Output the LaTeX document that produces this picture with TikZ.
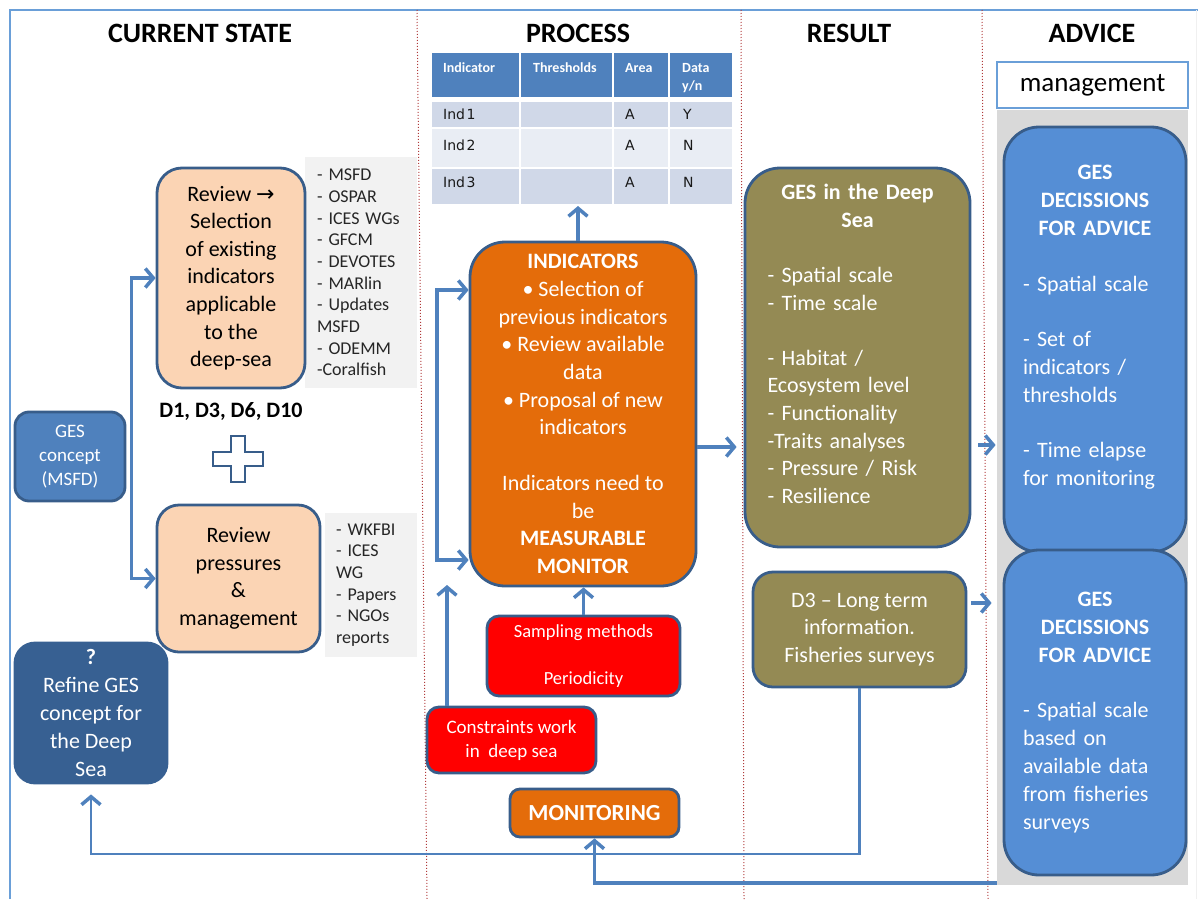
\documentclass[tikz,border=0pt]{standalone}
\usepackage{fontspec}
\setmainfont{Carlito}
\newfontfamily\dejavu{DejaVu Sans}
\usetikzlibrary{arrows.meta,calc}

\definecolor{bdr}{HTML}{385D8A}
\definecolor{peach}{HTML}{FBD4B4}
\definecolor{orng}{HTML}{E46C0A}
\definecolor{olive}{HTML}{948A54}
\definecolor{redbox}{HTML}{FF0000}
\definecolor{midblue}{HTML}{4F81BD}
\definecolor{darkblue}{HTML}{376092}
\definecolor{advblue}{HTML}{558ED5}
\definecolor{listgray}{HTML}{F2F2F2}
\definecolor{panelgray}{HTML}{D9D9D9}
\definecolor{cblue}{HTML}{4F81BD}
\definecolor{framecol}{HTML}{6A9FD8}
\definecolor{divider}{HTML}{B03A3A}
\definecolor{rowdark}{HTML}{D0D8E8}
\definecolor{rowlight}{HTML}{E9EDF4}

% centre one line inside a left-aligned node
\newcommand\ctr[1]{\hspace*{0pt plus 1filll}#1\hspace*{0pt plus 1filll}\mbox{}}

\begin{document}
\begin{tikzpicture}[x=1pt,y=-1pt,
  >={Straight Barb[length=8pt,width=19pt,line width=3.5pt]},
  box/.style={draw=bdr, line width=2.8pt, inner sep=0pt, align=center,
    font=\fontsize{22}{27.6}\selectfont},
  conn/.style={draw=cblue, line width=3.5pt},
  head/.style={font=\fontsize{28}{30}\selectfont\bfseries, anchor=base, inner sep=0pt},
  listbox/.style={fill=listgray, inner sep=0pt, align=left,
    font=\fontsize{18}{21.7}\selectfont, text=black!85},
  cellhead/.style={font=\fontsize{14}{17}\selectfont\bfseries, text=white,
    anchor=base west, inner sep=0pt},
  cell/.style={font=\dejavu\fontsize{14}{15}\selectfont, text=black!90,
    anchor=base west, inner sep=0pt},
  divline/.style={draw=divider, line width=1pt, dotted},
]
\useasboundingbox (0,0) rectangle (1198,899);

% outer frame and column dividers
\draw[draw=framecol, line width=2pt] (10,899) -- (10,10) -- (1198,10);
\draw[draw=gray!12, line width=1pt] (1196,10) -- (1196,899);
\draw[divline] (417,10) -- (427,899);
\draw[divline] (741,10) -- (744,899);
\draw[divline] (982,10) -- (988,899);

% column headings
\node[head] (h1) at (200,43) {CURRENT STATE};
\node[head] (h2) at (578,43) {PROCESS};
\node[head] (h3) at (849,43) {RESULT};
\node[head] (h4) at (1092,43) {ADVICE};

% indicator table
\fill[midblue] (432,53) rectangle (732,97);
\fill[rowdark] (432,102) rectangle (732,128);
\fill[rowlight] (432,128) rectangle (732,168);
\fill[rowdark] (432,168) rectangle (732,204);
\foreach \cx in {520,613,669} \draw[white, line width=1.5pt] (\cx,53) -- (\cx,204);
\foreach \cy in {128,168} \draw[white, line width=1.5pt] (432,\cy) -- (732,\cy);
\node[cellhead] (th1) at (443,72) {Indicator};
\node[cellhead] (th2) at (533,72) {Thresholds};
\node[cellhead] (th3) at (625,72) {Area};
\node[cellhead] (th4) at (682,72) {Data};
\node[cellhead] (th5) at (682,90) {y/n};
\node[cell] (r1a) at (443,119) {Ind\kern1.5pt1};
\node[cell] (r1b) at (625,119) {A};
\node[cell] (r1c) at (683,119) {Y};
\node[cell] (r2a) at (443,150) {Ind\kern1.5pt2};
\node[cell] (r2b) at (625,150) {A};
\node[cell] (r2c) at (683,150) {N};
\node[cell] (r3a) at (443,187) {Ind\kern1.5pt3};
\node[cell] (r3b) at (625,187) {A};
\node[cell] (r3c) at (683,187) {N};
\coordinate (tabbot) at (578,206);

% current state
\node[listbox, minimum width=112pt, minimum height=231pt, text width=88pt] (lst1) at (361,272.5)
  {- MSFD\\- OSPAR\\- ICES WGs\\- GFCM\\- DEVOTES\\- MARlin\\- Updates\\MSFD\\- ODEMM\\-Coralfish};
\node[listbox, minimum width=92pt, minimum height=144pt, text width=70pt] (lst2) at (371,585)
  {- WKFBI\\- ICES\\WG\\- Papers\\- NGOs\\reports};

\node[box, fill=midblue, rounded corners=14pt, minimum width=110pt, minimum height=89pt,
  text=white, font=\fontsize{19}{24}\selectfont] (ges) at (70,456.5) {GES\\concept\\(MSFD)};

\node[box, fill=peach, rounded corners=25pt, minimum width=148pt, minimum height=220pt] (rev1) at (231,278)
  {Review {\dejavu →}\\Selection\\of existing\\indicators\\applicable\\to the\\deep-sea};
\node[font=\fontsize{22}{26}\selectfont\bfseries, anchor=base, inner sep=0pt] (dlab) at (231,417) {D1, D3, D6, D10};

\draw[draw=bdr, fill=white, line width=2.8pt]
  (231,436) -- (245,436) -- (245,452) -- (263,452) -- (263,466) -- (245,466) -- (245,482)
  -- (231,482) -- (231,466) -- (213,466) -- (213,452) -- (231,452) -- cycle;

\node[box, fill=peach, rounded corners=22pt, minimum width=163pt, minimum height=147pt] (rev2) at (238.5,578.5)
  {Review\\pressures\\\&\\management};

\node[box, fill=darkblue, draw=darkblue, rounded corners=20pt, minimum width=152pt, minimum height=140pt,
  text=white, font=\fontsize{22}{28}\selectfont] (refine) at (91,713)
  {\textbf{?}\\Refine GES\\concept for\\the Deep\\Sea};

% process
\node[box, fill=orng, rounded corners=35pt, minimum width=226pt, minimum height=344pt,
  text=white, font=\fontsize{22}{27.7}\selectfont] (ind) at (583,414)
  {\textbf{INDICATORS}\\• Selection of\\previous indicators\\• Review available\\data\\• Proposal of new\\indicators\\\mbox{}\\Indicators need to\\be\\\textbf{MEASURABLE}\\\textbf{MONITOR}};

\node[box, fill=redbox, rounded corners=12pt, minimum width=193pt, minimum height=80pt,
  text=white, font=\fontsize{18.5}{23.5}\selectfont] (samp) at (583.5,656)
  {Sampling methods\\\mbox{}\\Periodicity};
\node[box, fill=redbox, rounded corners=12pt, minimum width=169pt, minimum height=66pt,
  text=white, font=\fontsize{19}{24}\selectfont] (cons) at (511.5,740)
  {Constraints work\\in\ \ deep sea};
\node[box, fill=orng, rounded corners=10pt, minimum width=169pt, minimum height=48pt,
  text=white, font=\fontsize{23}{26}\selectfont\bfseries] (mon) at (594.5,813) {MONITORING};

% result
\node[box, fill=olive, rounded corners=35pt, minimum width=225pt, minimum height=379pt,
  text=white, align=left, text width=180pt] (gesd) at (857.5,357.5)
  {\ctr{\textbf{GES in the Deep}}\\\ctr{\textbf{Sea}}\\\mbox{}\\- Spatial scale\\- Time scale\\\mbox{}\\- Habitat /\\Ecosystem level\\- Functionality\\-Traits analyses\\- Pressure / Risk\\- Resilience\\\mbox{}};
\node[box, fill=olive, rounded corners=20pt, minimum width=213pt, minimum height=115pt,
  text=white] (d3) at (859.5,629.5) {D3 – Long term\\information.\\Fisheries surveys};

% advice
\node[draw=framecol, line width=1.5pt, fill=white, minimum width=191pt, minimum height=46pt,
  inner sep=0pt, font=\fontsize{27}{30}\selectfont] (mgmt) at (1092.5,85) {management};
\node[fill=panelgray, minimum width=191pt, minimum height=775pt, inner sep=0pt] (panel) at (1092.5,497.5) {};
\node[box, fill=advblue, rounded corners=35pt, minimum width=182pt, minimum height=425pt,
  text=white, align=left, text width=144pt, font=\fontsize{22}{27.8}\selectfont] (adv1) at (1095,339.5)
  {\ctr{\textbf{GES}}\\\ctr{\textbf{DECISSIONS}}\\\ctr{\textbf{FOR ADVICE}}\\\mbox{}\\- Spatial scale\\\mbox{}\\- Set of\\indicators /\\thresholds\\\mbox{}\\- Time elapse\\for monitoring\\\mbox{}};
\node[box, fill=advblue, rounded corners=35pt, minimum width=182pt, minimum height=325pt,
  text=white, align=left, text width=144pt, font=\fontsize{22}{27.8}\selectfont] (adv2) at (1095,712.5)
  {\ctr{\textbf{GES}}\\\ctr{\textbf{DECISSIONS}}\\\ctr{\textbf{FOR ADVICE}}\\\mbox{}\\- Spatial scale\\based on\\available data\\from fisheries\\surveys};

% connectors
\coordinate (constip) at (447,585);
\draw[conn,<->] (rev1.west) -- ++(-24,0) |- (rev2.west);
\draw[conn,<->] (ind.west |- 0,290) -- (437,290) -- (437,560) -- (ind.west |- 0,560);
\draw[conn,->] (cons.north -| constip) -- (constip);
\draw[conn,->] (samp.north) -- (ind.south -| samp.north);
\draw[conn,->] (ind.north -| tabbot) -- (tabbot);
\draw[conn,->,shorten >=7pt] (ind.east |- 0,447) -- (gesd.west |- 0,447);
\draw[conn,->,shorten <=7pt,shorten >=7pt] (gesd.east |- 0,445) -- (adv1.west |- 0,445);
\draw[conn,->,shorten <=4pt,shorten >=11pt] (d3.east |- 0,603) -- (adv2.west |- 0,603);
\draw[conn,->,line width=2.8pt,shorten >=10pt] (d3.south) -- (d3.south |- 0,854) -| (refine.south);
\draw[conn,->] (panel.west |- 0,883) -| (mon.south);
\end{tikzpicture}
\end{document}
